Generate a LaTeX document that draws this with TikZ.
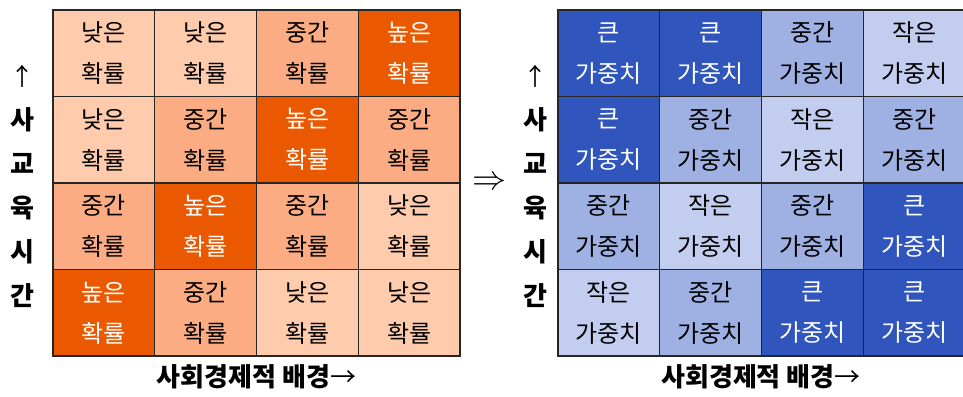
\documentclass[tikz,border=0pt]{standalone}
\usepackage{fontspec}
\setmainfont{Noto Sans CJK KR}
\begin{document}
\begin{tikzpicture}[x=1pt,y=-1pt,
  cell/.style={draw=black!85,line width=1.1pt,minimum width=101.75pt,minimum height=86.5pt,inner sep=0pt,align=center,font=\fontsize{24}{41}\selectfont},
  lo/.style={fill=lowO,text=black},
  md/.style={fill=midO,text=black},
  hi/.style={fill=highO,text=white},
  sm/.style={fill=smB,text=black},
  mb/.style={fill=midB,text=black},
  bg/.style={fill=bigB,text=white},
  lab/.style={font=\fontsize{26}{44}\selectfont\bfseries,align=center},
  arr/.style={font=\fontsize{24}{26}\selectfont}]
\definecolor{lowO}{HTML}{FECBAD}
\definecolor{midO}{HTML}{FCAC82}
\definecolor{highO}{HTML}{EA5800}
\definecolor{smB}{HTML}{C3CDEF}
\definecolor{midB}{HTML}{9FB1E3}
\definecolor{bigB}{HTML}{3055BD}
\useasboundingbox (0,0) rectangle (963,396);
\foreach [count=\i from 0] \t/\s in {낮은/lo,낮은/lo,중간/md,높은/hi,낮은/lo,중간/md,높은/hi,중간/md,중간/md,높은/hi,중간/md,낮은/lo,높은/hi,중간/md,낮은/lo,낮은/lo}{
  \pgfmathtruncatemacro\r{int(\i/4)}
  \pgfmathtruncatemacro\c{mod(\i,4)}
  \node[cell,\s] (L\r\c) at ({53+101.75*(\c+0.5)},{10+86.5*(\r+0.5)}) {\t\\확률};
}
\foreach [count=\i from 0] \t/\s in {큰/bg,큰/bg,중간/mb,작은/sm,큰/bg,중간/mb,작은/sm,중간/mb,중간/mb,작은/sm,중간/mb,큰/bg,작은/sm,중간/mb,큰/bg,큰/bg}{
  \pgfmathtruncatemacro\r{int(\i/4)}
  \pgfmathtruncatemacro\c{mod(\i,4)}
  \node[cell,\s] (R\r\c) at ({558+101.75*(\c+0.5)},{10+86.5*(\r+0.5)}) {\t\\가중치};
}
\draw[line width=1.3pt,black!85] (L00.north west) rectangle (L33.south east);
\draw[line width=1.3pt,black!85] (R00.north west) rectangle (R33.south east);
% side labels
\node[arr] (ua) at (22,76) {↑};
\node[lab] (ul) at (22,208) {사\\교\\육\\시\\간};
\node[arr] (ub) at (535,76) {↑};
\node[lab] (vl) at (535,208) {사\\교\\육\\시\\간};
% implication
\node[inner sep=0pt] (imp) at (489,183) {\scalebox{3.4}{$\Rightarrow$}};
% bottom labels
\node[lab] (bl) at (256.5,377) {사회경제적 배경\textmd{→}};
\node[lab] (br) at (761,377) {사회경제적 배경\textmd{→}};
\end{tikzpicture}
\end{document}
